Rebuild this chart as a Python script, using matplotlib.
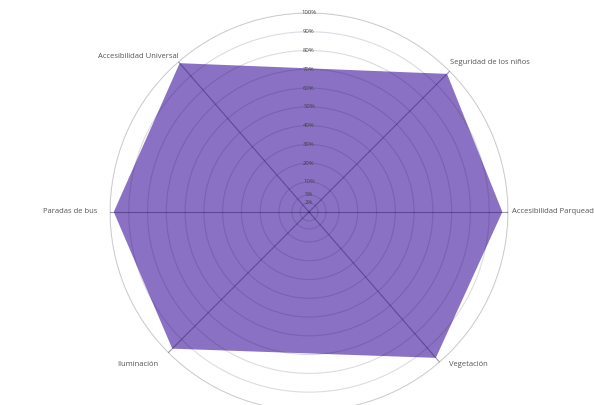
import numpy as np
import matplotlib
matplotlib.use("Agg")
import matplotlib.pyplot as plt

plt.rcParams['font.family'] = ['Open Sans', 'DejaVu Sans']

# categories and their angular position (degrees, as drawn in the original)
categories = ['Accesibilidad Parqueaderos', 'Seguridad de los niños', 'Accesibilidad Universal',
              'Paradas de bus', 'Iluminación', 'Vegetación']
angles_deg = [0, 45, 131, 180, 225, 311]
values = [97, 98, 99, 98, 97, 97]

# radial ticks (the ring spacing is not linear in the original)
ring_ticks = [2, 5, 10, 20, 30, 40, 50, 60, 70, 80, 90, 100]
scale_vals = [0, 2, 5, 10, 100, 130]
scale_pos = [0, 9, 17, 30, 199, 255]


def fwd(v):
    return np.interp(v, scale_vals, scale_pos)


def inv(p):
    return np.interp(p, scale_pos, scale_vals)


fig = plt.figure(figsize=(5.94, 4.05), dpi=100)
ax = fig.add_axes([0.1852, -0.0148, 0.670, 0.983], projection='polar')
ax.set_rscale('function', functions=(fwd, inv))
ax.set_rlim(0, 100)

theta = np.deg2rad(angles_deg)
th = np.append(theta, theta[0])
vv = np.append(values, values[0])
ax.fill(th, vv, color='#8a71c4', zorder=1, lw=0)

ax.set_axisbelow(False)
ax.set_xticks(theta)
ax.set_xticklabels([])
ax.set_yticks(ring_ticks)
ax.set_yticklabels([])
ax.xaxis.grid(True, color='#2a1a60', alpha=0.45, lw=0.8)
ax.yaxis.grid(True, color='#1a1040', alpha=0.15, lw=0.8)
ax.spines['polar'].set_color((0, 0, 0, 0.13))
ax.spines['polar'].set_linewidth(0.8)
ax.tick_params(length=0)

# ring labels on the vertical axis
for t in ring_ticks:
    ax.text(np.pi / 2, t, f'{t}%', ha='center', va='center', fontsize=4.3,
            color='#444444', zorder=5)

# category labels, anchored on the outer ring and nudged (points)
label_off = [(3, 0), (0, 6), (0, 3.5), (-9, 0), (-7, -8.5), (7, -2)]
label_ha = ['left', 'left', 'right', 'right', 'right', 'left']
for a, name, off, ha in zip(theta, categories, label_off, label_ha):
    ax.annotate(name, xy=(a, 100), xytext=off, textcoords='offset points',
                ha=ha, va='center', fontsize=5.5, color='#555555',
                annotation_clip=False)

fig.savefig('out.png', dpi=100)
